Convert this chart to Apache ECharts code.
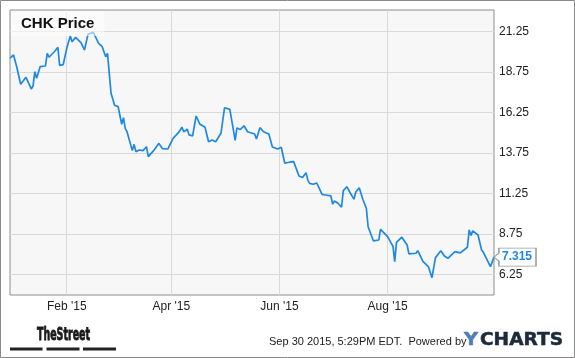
<!DOCTYPE html>
<html><head><meta charset="utf-8">
<script src="https://cdn.jsdelivr.net/npm/echarts@6/dist/echarts.min.js"></script>
<style>html,body{margin:0;padding:0;background:#fff}#c{width:575px;height:358px}</style>
</head><body><div id="c"></div>
<script>
const dates = ['2014-12-31','2015-01-02','2015-01-04','2015-01-06','2015-01-07','2015-01-09','2015-01-10','2015-01-12','2015-01-13','2015-01-14','2015-01-15','2015-01-17','2015-01-20','2015-01-21','2015-01-22','2015-01-25','2015-01-27','2015-01-28','2015-01-30',
'2015-02-01','2015-02-03','2015-02-04','2015-02-06','2015-02-09','2015-02-11','2015-02-13','2015-02-16','2015-02-17','2015-02-19','2015-02-21','2015-02-22','2015-02-23','2015-02-24','2015-02-26','2015-02-28',
'2015-03-02','2015-03-04','2015-03-05','2015-03-06','2015-03-07','2015-03-10','2015-03-11','2015-03-12','2015-03-14','2015-03-16','2015-03-17','2015-03-18','2015-03-19','2015-03-22','2015-03-25','2015-03-27','2015-03-30',
'2015-04-02','2015-04-05','2015-04-07','2015-04-08','2015-04-10','2015-04-11','2015-04-13','2015-04-15','2015-04-17','2015-04-20','2015-04-22','2015-04-24','2015-04-26','2015-04-27','2015-04-29',
'2015-05-01','2015-05-04','2015-05-06','2015-05-07','2015-05-08','2015-05-10','2015-05-12','2015-05-14','2015-05-18','2015-05-19','2015-05-21','2015-05-23','2015-05-26','2015-05-28','2015-05-31',
'2015-06-02','2015-06-04','2015-06-07','2015-06-09','2015-06-12','2015-06-14','2015-06-16','2015-06-17','2015-06-18','2015-06-20','2015-06-22','2015-06-23','2015-06-25','2015-06-27','2015-06-30',
'2015-07-01','2015-07-02','2015-07-04','2015-07-06','2015-07-07','2015-07-08','2015-07-09','2015-07-11','2015-07-13','2015-07-14','2015-07-15','2015-07-16','2015-07-18','2015-07-20','2015-07-21','2015-07-24','2015-07-27','2015-07-28','2015-07-29',
'2015-08-01','2015-08-03','2015-08-04','2015-08-05','2015-08-06','2015-08-09','2015-08-10','2015-08-12','2015-08-13','2015-08-17','2015-08-18','2015-08-21','2015-08-24','2015-08-26','2015-08-28','2015-08-31',
'2015-09-02','2015-09-04','2015-09-08','2015-09-11','2015-09-15','2015-09-16','2015-09-17','2015-09-18','2015-09-21','2015-09-23','2015-09-24','2015-09-25','2015-09-28','2015-09-29','2015-09-30'];
const prices = [19.60,19.80,18.98,17.99,17.95,18.42,18.32,17.70,17.88,18.77,18.36,19.08,19.12,19.90,19.66,20.00,20.27,19.16,19.20,
20.21,20.97,20.62,20.89,20.56,20.11,21.08,21.20,21.28,20.52,20.31,20.00,19.69,19.90,17.43,16.69,
16.61,15.52,15.93,15.27,15.06,13.89,14.28,13.83,13.93,13.89,13.99,14.13,13.52,13.89,14.34,14.01,13.99,
14.65,15.00,15.33,15.06,15.21,14.86,14.80,16.03,15.54,15.33,14.44,14.55,14.44,14.42,14.96,
16.54,16.44,15.17,14.52,15.29,15.20,15.43,15.06,14.92,14.61,15.31,15.06,14.92,14.12,13.99,
14.10,13.11,13.19,13.21,12.32,12.23,12.53,12.05,11.87,11.81,11.89,11.66,11.19,11.15,11.09,
10.58,10.78,10.64,10.39,11.42,11.32,11.66,11.26,10.89,11.32,11.26,11.60,10.89,10.33,9.19,8.31,8.37,9.03,9.13,
8.58,8.17,8.00,7.03,8.22,8.54,8.64,8.06,7.51,7.55,7.71,7.03,6.72,6.04,7.28,7.71,
7.38,7.24,7.65,7.57,7.92,8.99,8.65,8.93,8.68,7.75,7.61,7.72,6.72,6.77,7.315];
const xTickDates = ['2015-02-01','2015-04-01','2015-06-01','2015-08-01'];
const xTickLabels = ["Feb '15","Apr '15","Jun '15","Aug '15"];
const yTickValues = [6.25,8.75,11.25,13.75,16.25,18.75,21.25];
const xRange = ['2014-12-31','2015-09-30'];
const yRange = [4.97,22.58];
const titleText = 'CHK Price';
const footerText = 'Sep 30 2015, 5:29PM EDT.  Powered by';
const logoLeft = 'TheStreet';
const logoRightA = 'Y';
const logoRightB = 'CHARTS';

const ts = s => new Date(s + 'T00:00:00').getTime();
const xTicks = xTickDates.map(ts);
const seriesData = dates.map((d, i) => [ts(d), prices[i]]);
const last = seriesData[seriesData.length - 1];

const ctx = document.createElement('canvas').getContext('2d');
function measure(font, text) { ctx.font = font; return ctx.measureText(text).width; }
const fontTS = 'bold 17px "Liberation Sans Narrow","DejaVu Sans Condensed","Liberation Sans",sans-serif';
const fontYC = 'bold 17px "DejaVu Sans",sans-serif';
const sTS = 53 / measure(fontTS, logoLeft);
const sYB = 83 / measure(fontYC, logoRightB);
const sYA = 14 / measure(fontYC, logoRightA);

const chart = echarts.init(document.getElementById('c'), null, {renderer: 'canvas'});
chart.setOption({
  animation: false,
  backgroundColor: '#fff',
  title: {
    text: titleText, left: 11, top: 11, padding: [5, 10, 5, 10],
    backgroundColor: 'rgba(255,255,255,0.55)',
    textStyle: {fontSize: 15, fontWeight: 'bold', color: '#111', fontFamily: '"Liberation Sans", Arial, sans-serif'}
  },
  grid: {left: 10, top: 10, width: 484, height: 285, show: true, backgroundColor: '#f7f7f7', borderColor: '#8c8c8c', borderWidth: 1, containLabel: false},
  xAxis: {
    type: 'value', min: ts(xRange[0]), max: ts(xRange[1]),
    axisLine: {show: false},
    axisTick: {show: false, customValues: xTicks},
    axisLabel: {
      customValues: xTicks, margin: 6, color: '#222', fontSize: 12,
      fontFamily: '"Liberation Sans", Arial, sans-serif',
      formatter: v => { const i = xTicks.findIndex(t => Math.abs(t - v) < 4e7); return i >= 0 ? xTickLabels[i] : ''; }
    },
    splitLine: {show: true, lineStyle: {color: '#d9d9d9', width: 1}}
  },
  yAxis: {
    type: 'value', position: 'right', min: yRange[0], max: yRange[1],
    axisLine: {show: false},
    axisTick: {show: false, customValues: yTickValues},
    axisLabel: {customValues: yTickValues, margin: 5, color: '#222', fontSize: 12,
      fontFamily: '"Liberation Sans", Arial, sans-serif', formatter: v => v.toFixed(2)},
    splitLine: {show: true, lineStyle: {color: '#d9d9d9', width: 1}}
  },
  series: [{
    type: 'line', data: seriesData, showSymbol: false, symbol: 'none',
    lineStyle: {color: '#1e88e5', width: 1.7}, itemStyle: {color: '#1e88e5'},
    markPoint: {
      silent: true,
      symbol: 'path://M0,9L5,5L5,0L43,0L43,18L5,18L5,13Z',
      symbolSize: [42, 18], symbolOffset: [21, 0],
      itemStyle: {color: '#fff', borderColor: '#999', borderWidth: 1},
      label: {show: true, position: 'inside', offset: [2, 0], color: '#1e88e5', fontWeight: 'bold', fontSize: 12,
        fontFamily: '"Liberation Sans", Arial, sans-serif', formatter: p => String(p.value)},
      data: [{coord: last, value: last[1]}]
    }
  }],
  graphic: [
    {type: 'rect', shape: {x: 0.5, y: 0.5, width: 574, height: 357}, style: {fill: 'none', stroke: '#8a8a8a', lineWidth: 1}, silent: true},
    {type: 'text', x: 37, y: 335.5, scaleX: sTS, style: {text: logoLeft, x: 0, y: 0, font: fontTS, fill: '#1a1a1a', stroke: '#1a1a1a', lineWidth: 0.8, verticalAlign: 'middle'}},
    {type: 'rect', shape: {x: 10, y: 347.5, width: 32.5, height: 3}, style: {fill: '#222'}},
    {type: 'rect', shape: {x: 46.5, y: 347.5, width: 33, height: 3}, style: {fill: '#222'}},
    {type: 'rect', shape: {x: 83, y: 347.5, width: 33, height: 3}, style: {fill: '#222'}},
    {type: 'text', x: 269, y: 342, style: {text: footerText, x: 0, y: 0, font: '11px "Liberation Sans", Arial, sans-serif', fill: '#222', verticalAlign: 'middle'}},
    {type: 'text', x: 464, y: 341, scaleX: sYA, style: {text: logoRightA, x: 0, y: 0, font: fontYC, fill: '#4f7fb8', stroke: '#4f7fb8', lineWidth: 0.5, verticalAlign: 'middle'}},
    {type: 'text', x: 480, y: 341, scaleX: sYB, style: {text: logoRightB, x: 0, y: 0, font: fontYC, fill: '#1c2a3b', stroke: '#1c2a3b', lineWidth: 0.5, verticalAlign: 'middle'}}
  ]
});
</script></body></html>
